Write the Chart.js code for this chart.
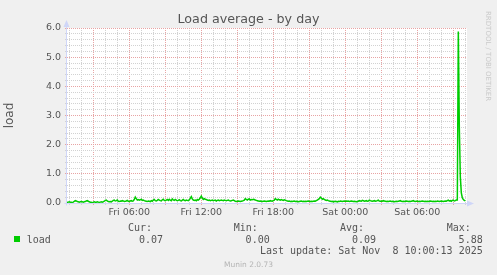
<!DOCTYPE html>
<html>
<head>
<meta charset="utf-8">
<script src="https://cdn.jsdelivr.net/npm/chart.js@4.4.1/dist/chart.umd.min.js"></script>
<style>
html,body{margin:0;padding:0;background:#F0F0F0;}
#wrap{position:relative;width:497px;height:275px;overflow:hidden;}
#c{position:absolute;left:0;top:0;}
.mono{position:absolute;white-space:pre;font-family:"DejaVu Sans Mono",monospace;font-size:10px;line-height:12px;color:#555;}
#swatch{position:absolute;left:14px;top:236px;width:6px;height:6px;background:#00CC00;}
#munin{position:absolute;left:0;width:497px;top:260px;text-align:center;font-family:"DejaVu Sans",sans-serif;font-size:7.5px;line-height:9px;color:#b4b4b4;}
#rrd{position:absolute;left:484px;top:11px;writing-mode:vertical-rl;font-family:"DejaVu Sans",sans-serif;font-size:7px;line-height:8px;color:#cacaca;white-space:pre;}
</style>
</head>
<body>
<div id="wrap">
<canvas id="c" width="497" height="275"></canvas>
<div id="legend"></div>
<div id="munin"></div>
<div id="rrd"></div>
</div>
<script>
// ---- data (5-minute samples, last one at Sat 10:00) ----
const loadValues = [
0.03,0.02,0.03,0.04,0.03,0.03,0.02,0.03,0.06,0.08,0.07,0.05,0.04,0.03,0.04,0.05,0.04,0.03,0.04,0.05,
0.07,0.08,0.06,0.04,0.03,0.03,0.00,0.03,0.04,0.03,0.03,0.04,0.03,0.02,0.03,0.04,0.03,0.04,0.06,0.09,
0.10,0.07,0.05,0.04,0.05,0.04,0.06,0.09,0.10,0.07,0.08,0.10,0.06,0.05,0.07,0.06,0.08,0.07,0.05,0.06,
0.07,0.09,0.06,0.05,0.07,0.08,0.06,0.07,0.12,0.20,0.15,0.10,0.12,0.10,0.11,0.13,0.09,0.10,0.08,0.07,
0.06,0.05,0.07,0.06,0.05,0.08,0.06,0.10,0.12,0.08,0.07,0.09,0.12,0.10,0.08,0.07,0.11,0.13,0.09,0.08,
0.10,0.12,0.09,0.13,0.10,0.08,0.14,0.11,0.09,0.12,0.10,0.08,0.09,0.11,0.08,0.07,0.10,0.12,0.09,0.08,
0.10,0.09,0.08,0.11,0.16,0.22,0.14,0.10,0.09,0.10,0.08,0.12,0.10,0.13,0.18,0.24,0.17,0.12,0.15,0.13,
0.12,0.10,0.09,0.10,0.08,0.09,0.10,0.08,0.09,0.10,0.07,0.09,0.10,0.08,0.09,0.10,0.09,0.08,0.10,0.09,
0.08,0.09,0.10,0.08,0.07,0.08,0.09,0.10,0.08,0.06,0.05,0.06,0.07,0.06,0.05,0.06,0.07,0.08,0.10,0.15,
0.12,0.10,0.13,0.14,0.10,0.12,0.11,0.13,0.12,0.10,0.09,0.08,0.07,0.06,0.07,0.06,0.05,0.06,0.07,0.06,
0.05,0.06,0.07,0.06,0.08,0.07,0.06,0.08,0.10,0.15,0.12,0.10,0.13,0.11,0.10,0.12,0.10,0.09,0.11,0.10,
0.08,0.07,0.06,0.07,0.05,0.06,0.05,0.06,0.07,0.05,0.06,0.05,0.04,0.05,0.06,0.07,0.05,0.06,0.05,0.06,
0.05,0.06,0.07,0.06,0.05,0.06,0.05,0.06,0.07,0.06,0.08,0.10,0.12,0.15,0.20,0.17,0.13,0.15,0.12,0.10,
0.09,0.10,0.08,0.07,0.06,0.05,0.06,0.04,0.05,0.06,0.05,0.04,0.06,0.05,0.07,0.06,0.05,0.06,0.07,0.06,
0.07,0.06,0.07,0.05,0.06,0.07,0.06,0.05,0.06,0.05,0.04,0.05,0.06,0.08,0.07,0.06,0.09,0.08,0.06,0.07,
0.08,0.06,0.07,0.10,0.08,0.07,0.06,0.07,0.08,0.06,0.07,0.08,0.10,0.07,0.06,0.07,0.06,0.08,0.07,0.06,
0.05,0.06,0.05,0.06,0.07,0.05,0.06,0.05,0.04,0.05,0.06,0.05,0.06,0.07,0.08,0.06,0.05,0.06,0.05,0.06,
0.07,0.06,0.05,0.06,0.05,0.06,0.07,0.08,0.06,0.05,0.06,0.07,0.05,0.06,0.05,0.06,0.07,0.06,0.05,0.06,
0.05,0.06,0.05,0.06,0.07,0.06,0.05,0.06,0.05,0.06,0.05,0.07,0.06,0.05,0.06,0.07,0.06,0.05,0.06,0.07,
0.06,0.08,0.10,0.07,0.08,0.06,0.09,0.10,0.07,0.08,0.10,0.10,5.88,2.60,0.90,0.35,0.18,0.12,0.09,0.07
];
const lastSampleHour = 34;          // Sat 10:00, hours after Fri 00:00
const sampleStepHours = 5 / 60;
const xStartHour = 0.81;
const xEndHour = 34.14;
const xTickHours = [6, 12, 18, 24, 30];
const xTickLabels = ['Fri 06:00', 'Fri 12:00', 'Fri 18:00', 'Sat 00:00', 'Sat 06:00'];
const yTickValues = [0, 1, 2, 3, 4, 5, 6];
const yTickLabels = ['0.0', '1.0', '2.0', '3.0', '4.0', '5.0', '6.0'];
const seriesName = 'load';
const statLabels = ['Cur:', 'Min:', 'Avg:', 'Max:'];
const statValues = ['0.07', '0.00', '0.09', '5.88'];
const chartTitle = 'Load average - by day';
const yAxisTitle = 'load';
const lastUpdateText = 'Last update: Sat Nov  8 10:00:13 2025';
const footerText = 'Munin 2.0.73';
const watermarkText = 'RRDTOOL / TOBI OETIKER';

// ---- styles ----
const LINE_COLOR = '#00CC00';
const MAJOR_GRID = '#e8a4a4';
const MINOR_GRID = '#d2d2d2';
const AXIS_COLOR = '#CFD6F8';
const TEXT_COLOR = '#555555';

const points = loadValues.map((v, i) => ({
  x: lastSampleHour - (loadValues.length - 1 - i) * sampleStepHours,
  y: v
}));

const framePlugin = {
  id: 'frame',
  beforeDraw(chart) {
    const {ctx, chartArea: a} = chart;
    ctx.save();
    ctx.fillStyle = '#ffffff';
    ctx.fillRect(a.left, a.top, a.right - a.left, a.bottom - a.top);
    ctx.restore();
  },
  beforeDatasetsDraw(chart) {
    const {ctx, chartArea: a} = chart;
    const x0 = Math.round(a.left) - 0.5, y0 = Math.round(a.bottom) + 0.5;
    ctx.save();
    ctx.strokeStyle = AXIS_COLOR;
    ctx.fillStyle = AXIS_COLOR;
    ctx.lineWidth = 1;
    ctx.beginPath();
    ctx.moveTo(x0, y0 + 2); ctx.lineTo(x0, a.top - 4);
    ctx.moveTo(x0 - 2, y0); ctx.lineTo(a.right + 4, y0);
    ctx.stroke();
    ctx.beginPath();
    ctx.moveTo(x0, a.top - 8); ctx.lineTo(x0 - 3, a.top - 1); ctx.lineTo(x0 + 3, a.top - 1); ctx.closePath();
    ctx.fill();
    ctx.beginPath();
    ctx.moveTo(a.right + 7, y0); ctx.lineTo(a.right, y0 - 3); ctx.lineTo(a.right, y0 + 3); ctx.closePath();
    ctx.fill();
    ctx.restore();
  }
};

new Chart(document.getElementById('c').getContext('2d'), {
  type: 'line',
  data: {
    datasets: [{
      label: seriesName,
      data: points,
      borderColor: LINE_COLOR,
      backgroundColor: LINE_COLOR,
      borderWidth: 1.5,
      pointRadius: 0,
      tension: 0,
      fill: false
    }]
  },
  options: {
    responsive: false,
    animation: false,
    devicePixelRatio: 1,
    layout: {padding: {left: 0, right: 0, top: 0, bottom: 52}},
    plugins: {
      legend: {display: false},
      tooltip: {enabled: false},
      title: {
        display: true,
        text: chartTitle,
        color: TEXT_COLOR,
        font: {family: 'DejaVu Sans', size: 12.7, weight: 'normal', lineHeight: 1.2},
        padding: {top: 12, bottom: 0.76}
      }
    },
    scales: {
      x: {
        type: 'linear',
        min: xStartHour,
        max: xEndHour,
        afterBuildTicks: s => {
          const t = [];
          for (let h = Math.ceil(xStartHour); h <= Math.floor(xEndHour); h++) t.push({value: h});
          s.ticks = t;
        },
        afterFit: s => { s.height = 20; },
        ticks: {
          autoSkip: false, maxRotation: 0, minRotation: 0, padding: 2,
          color: TEXT_COLOR,
          font: {family: 'DejaVu Sans', size: 9.5},
          callback: v => {
            const k = xTickHours.indexOf(v);
            return k >= 0 ? xTickLabels[k] : '';
          }
        },
        grid: {
          color: c => (c.tick && c.tick.value % 3 === 0) ? MAJOR_GRID : MINOR_GRID,
          lineWidth: 1,
          tickLength: 2,
          tickBorderDash: []
        },
        border: {display: false, dash: [1, 1]}
      },
      y: {
        type: 'linear',
        min: 0,
        max: 6,
        afterBuildTicks: s => {
          const t = [];
          for (let k = 0; k <= 30; k++) t.push({value: k / 5});
          s.ticks = t;
        },
        afterFit: s => { s.width = 67; },
        ticks: {
          autoSkip: false, padding: 4,
          color: TEXT_COLOR,
          font: {family: 'DejaVu Sans', size: 9.5},
          callback: v => {
            const k = yTickValues.findIndex(y => Math.abs(y - v) < 1e-9);
            return k >= 0 ? yTickLabels[k] : '';
          }
        },
        grid: {
          color: c => (c.tick && Math.abs(c.tick.value - Math.round(c.tick.value)) < 1e-9) ? MAJOR_GRID : MINOR_GRID,
          lineWidth: 1,
          tickLength: 2,
          tickBorderDash: []
        },
        border: {display: false, dash: [1, 1]},
        title: {
          display: true,
          text: yAxisTitle,
          color: TEXT_COLOR,
          font: {family: 'DejaVu Sans', size: 12},
          padding: {top: 3, bottom: 0}
        }
      },
      // empty right-hand margin (keeps the title centred on the whole image)
      yRight: {
        type: 'linear',
        position: 'right',
        display: true,
        afterFit: s => { s.width = 30; },
        ticks: {display: false},
        grid: {display: false},
        border: {display: false}
      }
    }
  },
  plugins: [framePlugin]
});

// ---- legend / footer as HTML text ----
const legend = document.getElementById('legend');
function addText(txt, left, top) {
  const d = document.createElement('div');
  d.className = 'mono';
  d.style.left = left + 'px';
  d.style.top = top + 'px';
  d.textContent = txt;
  legend.appendChild(d);
}
const sw = document.createElement('div');
sw.id = 'swatch';
legend.appendChild(sw);
const labelLefts = [128, 233.7, 340, 446.7];
const valueRights = [163, 269.7, 376, 482.7];
const CH = 6.02;
statLabels.forEach((s, i) => addText(s, labelLefts[i], 222.2));
addText(seriesName, 26.7, 233.5);
statValues.forEach((s, i) => addText(s, valueRights[i] - s.length * CH, 233.5));
addText(lastUpdateText, 482.7 - lastUpdateText.length * CH, 245);
document.getElementById('munin').textContent = footerText;
document.getElementById('rrd').textContent = watermarkText;
</script>
</body>
</html>
